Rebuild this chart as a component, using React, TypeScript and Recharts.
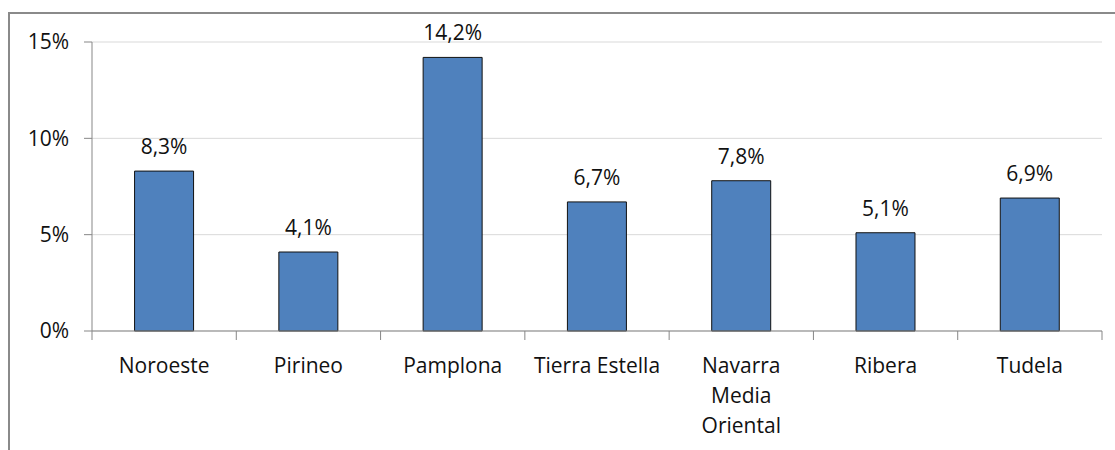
import React from "react";
import { BarChart, Bar, XAxis, YAxis, CartesianGrid, LabelList } from "recharts";

const categoryLines: string[][] = [
  ["Noroeste"],
  ["Pirineo"],
  ["Pamplona"],
  ["Tierra Estella"],
  ["Navarra", "Media", "Oriental"],
  ["Ribera"],
  ["Tudela"],
];
const categories = categoryLines.map((l) => l.join(" "));
const values = [8.3, 4.1, 14.2, 6.7, 7.8, 5.1, 6.9];
const yTicks = [0, 5, 10, 15];

const data = categories.map((name, i) => ({ name, value: values[i] }));

const FONT = "'Open Sans', sans-serif";
const AXIS = "#878787";

const XTick = (props: any) => {
  const { x, y, payload, index, visibleTicksCount } = props;
  const half = payload && payload.offset ? payload.offset : 0;
  const lines = categoryLines[categories.indexOf(payload.value)] || [String(payload.value)];
  const isLast = index === visibleTicksCount - 1;
  return (
    <g>
      <line x1={x - half} x2={x - half} y1={y - 9} y2={y} stroke={AXIS} strokeWidth={1} />
      {isLast && <line x1={x + half} x2={x + half} y1={y - 9} y2={y} stroke={AXIS} strokeWidth={1} />}
      <text x={x} y={y + 33} textAnchor="middle" fontSize={21} fill="#111" style={{ fontFamily: FONT }}>
        {lines.map((t, i) => (
          <tspan key={i} x={x} y={y + 33 + i * 30}>
            {t}
          </tspan>
        ))}
      </text>
    </g>
  );
};

export default function App() {
  return (
    <div style={{ position: "absolute", left: 0, top: 0, width: 1115, height: 450, background: "#fff", overflow: "hidden" }}>
      <div
        style={{
          position: "absolute",
          left: 8,
          top: 12,
          width: 1300,
          height: 600,
          borderLeft: "2px solid #8a8a8a",
          borderTop: "2px solid #8a8a8a",
        }}
      />
      <div style={{ position: "absolute", left: 0, top: 0 }}>
        <BarChart
          width={1115}
          height={450}
          data={data}
          margin={{ top: 42, right: 13, bottom: 0, left: 0 }}
          barCategoryGap="29.5%"
        >
          <CartesianGrid vertical={false} stroke="#d9d9d9" />
          <XAxis
            dataKey="name"
            interval={0}
            height={119}
            tickLine={false}
            tickSize={9}
            tickMargin={0}
            axisLine={{ stroke: AXIS }}
            tick={<XTick />}
          />
          <YAxis
            type="number"
            domain={[0, 15]}
            ticks={yTicks}
            width={92}
            tickSize={8}
            tickMargin={15}
            tickFormatter={(v: number) => `${v}%`}
            axisLine={{ stroke: AXIS }}
            tickLine={{ stroke: AXIS }}
            tick={{ fontSize: 21, fill: "#111", fontFamily: FONT }}
          />
          <Bar dataKey="value" fill="#4F81BD" stroke="#111" strokeWidth={1} isAnimationActive={false}>
            <LabelList
              dataKey="value"
              position="top"
              offset={17}
              formatter={(v: any) => `${Number(v).toFixed(1).replace(".", ",")}%`}
              style={{ fontSize: 21, fill: "#111", fontFamily: FONT }}
            />
          </Bar>
        </BarChart>
      </div>
    </div>
  );
}
